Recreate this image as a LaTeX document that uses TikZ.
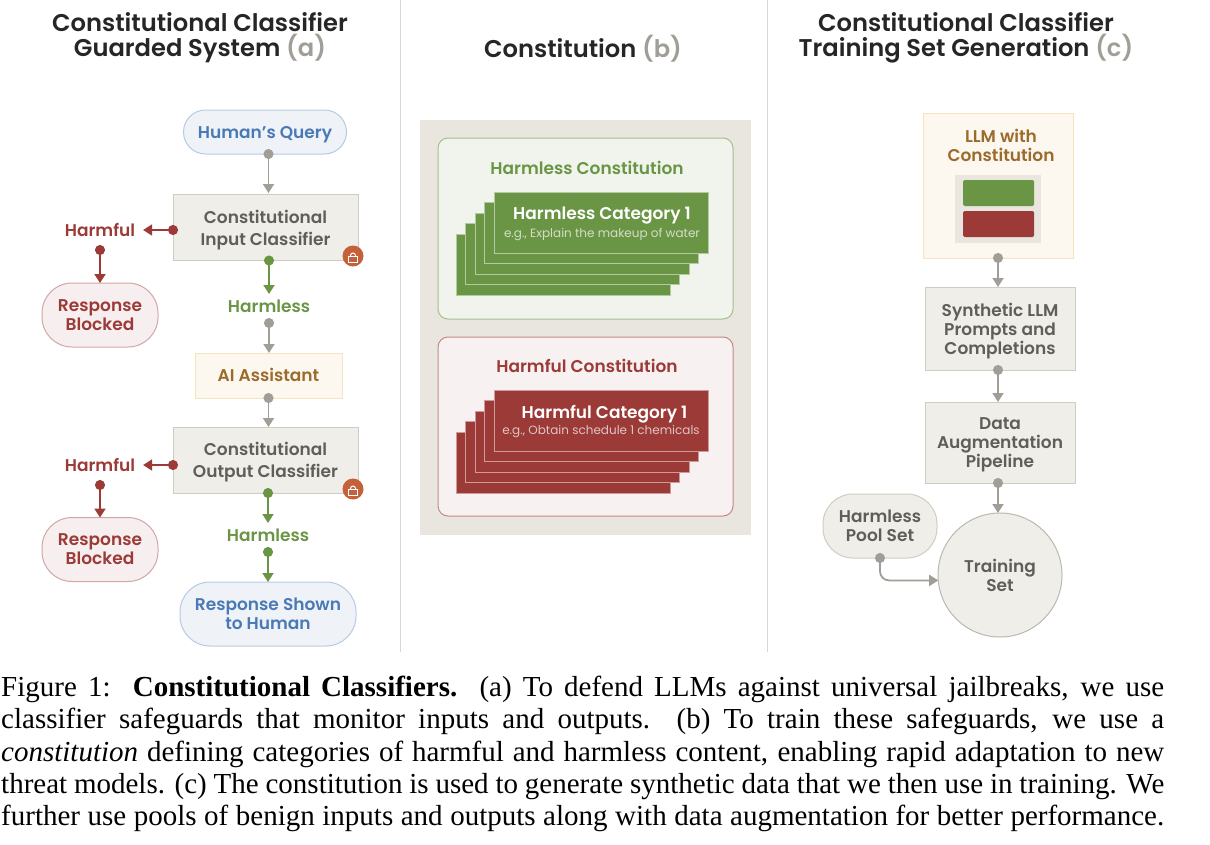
\documentclass[tikz,border=0pt]{standalone}
\usepackage{fontspec}
\setmainfont{Liberation Serif}
\setsansfont{Poppins}[BoldFont={Poppins SemiBold}]
\usepackage{xcolor}
\definecolor{accgray}{RGB}{160,158,150}
\definecolor{accred}{RGB}{155,58,54}
\definecolor{accgreen}{RGB}{106,149,69}
\definecolor{accblue}{RGB}{74,122,181}
\definecolor{accgold}{RGB}{156,107,44}
\definecolor{inkgray}{RGB}{95,94,90}
\definecolor{boxfill}{RGB}{240,238,232}
\definecolor{boxline}{RGB}{207,204,195}
\definecolor{panelfill}{RGB}{233,230,223}
\definecolor{goldfill}{RGB}{252,248,240}
\definecolor{goldline}{RGB}{248,227,189}
\definecolor{lockfill}{RGB}{196,96,58}
\usepackage{tikz}
\usetikzlibrary{arrows.meta}
\tikzset{
  lbl/.style={font=\sffamily\bfseries\fontsize{17}{19}\selectfont,align=center,inner sep=0pt,outer sep=0pt},
  headline/.style={lbl,font=\sffamily\bfseries\fontsize{24.2}{25}\selectfont,text=black!85},
  smalllbl/.style={lbl,font=\sffamily\fontsize{12}{15}\selectfont},
  grayflow/.style={line width=1.8pt,accgray,{Circle[length=10pt]}-{Triangle[length=9pt,width=11pt]},shorten <=-5pt},
  redflow/.style={grayflow,accred},
  greenflow/.style={grayflow,accgreen},
  classbox/.style={lbl,draw=boxline,fill=boxfill,text=inkgray,line width=1pt,minimum width=185pt,minimum height=66pt},
  inoutbox/.style={classbox,font=\sffamily\bfseries\fontsize{17}{22}\selectfont,text depth=-4pt},
  goldbox/.style={classbox,draw=goldline,fill=goldfill,text=accgold},
  pill/.style={classbox,rounded corners=30pt,minimum width=116pt,minimum height=64pt},
  redpill/.style={pill,draw=accred!45,fill=accred!8,text=accred},
  bluepill/.style={pill,draw=accblue!40,fill=accblue!9,text=accblue},
  lockdot/.style={circle,fill=lockfill,minimum size=21pt,inner sep=0pt},
}
\newcommand{\lockmark}[1]{
  \draw[white,line width=1pt] ([xshift=-4.5pt,yshift=-0.5pt]#1.center) rectangle ([xshift=4.5pt,yshift=-6pt]#1.center);
  \draw[white,line width=1pt] ([xshift=-2.5pt,yshift=-0.5pt]#1.center) -- ++(0,-1) arc (180:360:2.5) -- ++(0,1);
}
\newcommand{\cardstack}[4]{
  \foreach \k in {4,3,2,1,0}{
    \draw[fill=#3,draw=#4,line width=1pt] (#1-\k*9.5,#2+\k*10.5) rectangle ++(214,61);}
}
\begin{document}
\begin{tikzpicture}[x=1pt,y=-1pt]
\useasboundingbox (0,0) rectangle (1210,844);
\draw[boxline!80,line width=1pt] (400,0) -- (400,652);
\draw[boxline!80,line width=1pt] (767,0) -- (767,652);
% ---- GUARDED SYSTEM (a) ----
\node[headline] (titlea) at (200,38) {Constitutional Classifier\\Guarded System \textcolor{accgray}{(a)}};
\node[bluepill,text depth=-2pt,rounded corners=22pt,minimum width=163pt,minimum height=44pt] (query) at (265,132) {Human's Query};
\node[inoutbox] (inputcl) at (265.5,227.5) {Constitutional\\Input Classifier};
\node[lbl,accred,anchor=base,text height=16pt,text depth=14pt,inner xsep=8pt] (harmfula) at (100,236) {Harmful};
\node[redpill] (blockeda) at (100,315) {Response\\Blocked};
\node[lbl,accgreen,anchor=base,text height=18pt,text depth=11pt] (harmlessa) at (269,312) {Harmless};
\node[goldbox,text depth=2pt,minimum width=147pt,minimum height=45pt] (assistant) at (268.5,375.5) {AI Assistant};
\node[inoutbox] (outputcl) at (265.5,460) {Constitutional\\Output Classifier};
\node[lbl,accred,anchor=base,text height=16pt,text depth=14pt,inner xsep=8pt] (harmfulb) at (100,471) {Harmful};
\node[redpill] (blockedb) at (100,549.5) {Response\\Blocked};
\node[lbl,accgreen,anchor=base,text height=18pt,text depth=11pt] (harmlessb) at (268,541) {Harmless};
\node[bluepill,minimum width=176pt] (shown) at (268,614) {Response Shown\\to Human};
\node[lockdot] (locka) at (353,256) {};
\lockmark{locka}
\node[lockdot] (lockb) at (353,489) {};
\lockmark{lockb}
\draw[grayflow] (query.south -| inputcl.south) ++(3,0) -- ++(0,39);
\draw[redflow] (inputcl.west |- harmfula.base) ++(0,-6) -- (harmfula.east |- 0,230);
\draw[redflow] (harmfula.south) -- (blockeda.north);
\draw[greenflow] (harmlessa.north |- inputcl.south) -- (harmlessa.north);
\draw[grayflow] (harmlessa.south) -- (harmlessa.south |- assistant.north);
\draw[grayflow] (assistant.south) -- (assistant.south |- outputcl.north);
\draw[redflow] (outputcl.west |- 0,465) -- (harmfulb.east |- 0,465);
\draw[redflow] (harmfulb.south) -- (blockedb.north);
\draw[greenflow] (harmlessb.north |- outputcl.south) -- (harmlessb.north);
\draw[greenflow] (harmlessb.south) -- (shown.north);
% ---- CONSTITUTION (b) ----
\node[headline] (titleb) at (583,49) {Constitution \textcolor{accgray}{(b)}};
\fill[panelfill] (420,120) rectangle (751,535);
\draw[fill=accgreen!10,draw=accgreen!60,line width=1pt,rounded corners=10pt] (438,138) rectangle (733,319);
\draw[fill=accred!7,draw=accred!60,line width=1pt,rounded corners=10pt] (438,337) rectangle (733,516);
\cardstack{494}{192}{accgreen}{accgreen!50!white}
\cardstack{494}{390}{accred}{accred!50!white}
\node[lbl,accgreen] (harmlesstitle) at (587,168) {Harmless Constitution};
\node[lbl,white] (harmlesscat) at (602,216) {Harmless Category 1};
\node[smalllbl,accgreen!30!white] (harmlessex) at (602,235) {e.g., Explain the makeup of water};
\node[lbl,accred] (harmfultitle) at (587,366) {Harmful Constitution};
\node[lbl,white] (harmfulcat) at (604.5,414) {Harmful Category 1};
\node[smalllbl,accred!30!white] (harmfulex) at (601,432) {e.g., Obtain schedule 1 chemicals};
% ---- TRAINING SET GENERATION (c) ----
\node[headline] (titlec) at (966,38) {Constitutional Classifier\\Training Set Generation \textcolor{accgray}{(c)}};
\node[goldbox,minimum width=150pt,minimum height=145pt] (llm) at (998,185.5) {};
\node[lbl,accgold] (llmtext) at (1001,145.5) {LLM with\\Constitution};
\fill[panelfill] (955,175) rectangle (1041,243);
\fill[accgreen,rounded corners=1.5pt] (963,180) rectangle (1034,206);
\fill[accred,rounded corners=1.5pt] (963,211) rectangle (1034,237);
\node[classbox,text depth=-2.5pt,minimum width=150pt,minimum height=83pt] (synth) at (1000,328.5) {Synthetic LLM\\Prompts and\\Completions};
\node[classbox,text depth=-0.5pt,minimum width=150pt,minimum height=81pt] (augment) at (1000,442.5) {Data\\Augmentation\\Pipeline};
\node[classbox,circle,text depth=-5pt,draw=boxline!90!black,minimum width=0pt,minimum size=124pt] (trainset) at (1000,575) {Training\\Set};
\node[pill,minimum width=114pt,minimum height=64pt] (pool) at (880,526) {Harmless\\Pool Set};
\draw[grayflow] (llm.south) -- (llm.south |- synth.north);
\draw[grayflow] (synth.south -| llm.south) -- (llm.south |- augment.north);
\draw[grayflow] (augment.south -| llm.south) -- (llm.south |- trainset.north);
\draw[grayflow,rounded corners=9pt] (pool.south) |- (trainset.185);
% ---- CAPTION ----
\node[inner sep=0pt,anchor=north west,text width=1163pt,align=justify,font=\rmfamily\fontsize{29}{32.3}\selectfont] (caption) at (1,676) {Figure 1:\ \ \textbf{Constitutional Classifiers.}\ \ (a) To defend LLMs against universal jailbreaks, we use\linebreak classifier safeguards that monitor inputs and outputs.\ \ (b) To train these safeguards, we use a\linebreak \textit{constitution} defining categories of harmful and harmless content, enabling rapid adaptation to new\linebreak threat models. (c) The constitution is used to generate synthetic data that we then use in training. We\linebreak further use pools of benign inputs and outputs along with data augmentation for better performance.\parfillskip=0pt\par};
\end{tikzpicture}
\end{document}
